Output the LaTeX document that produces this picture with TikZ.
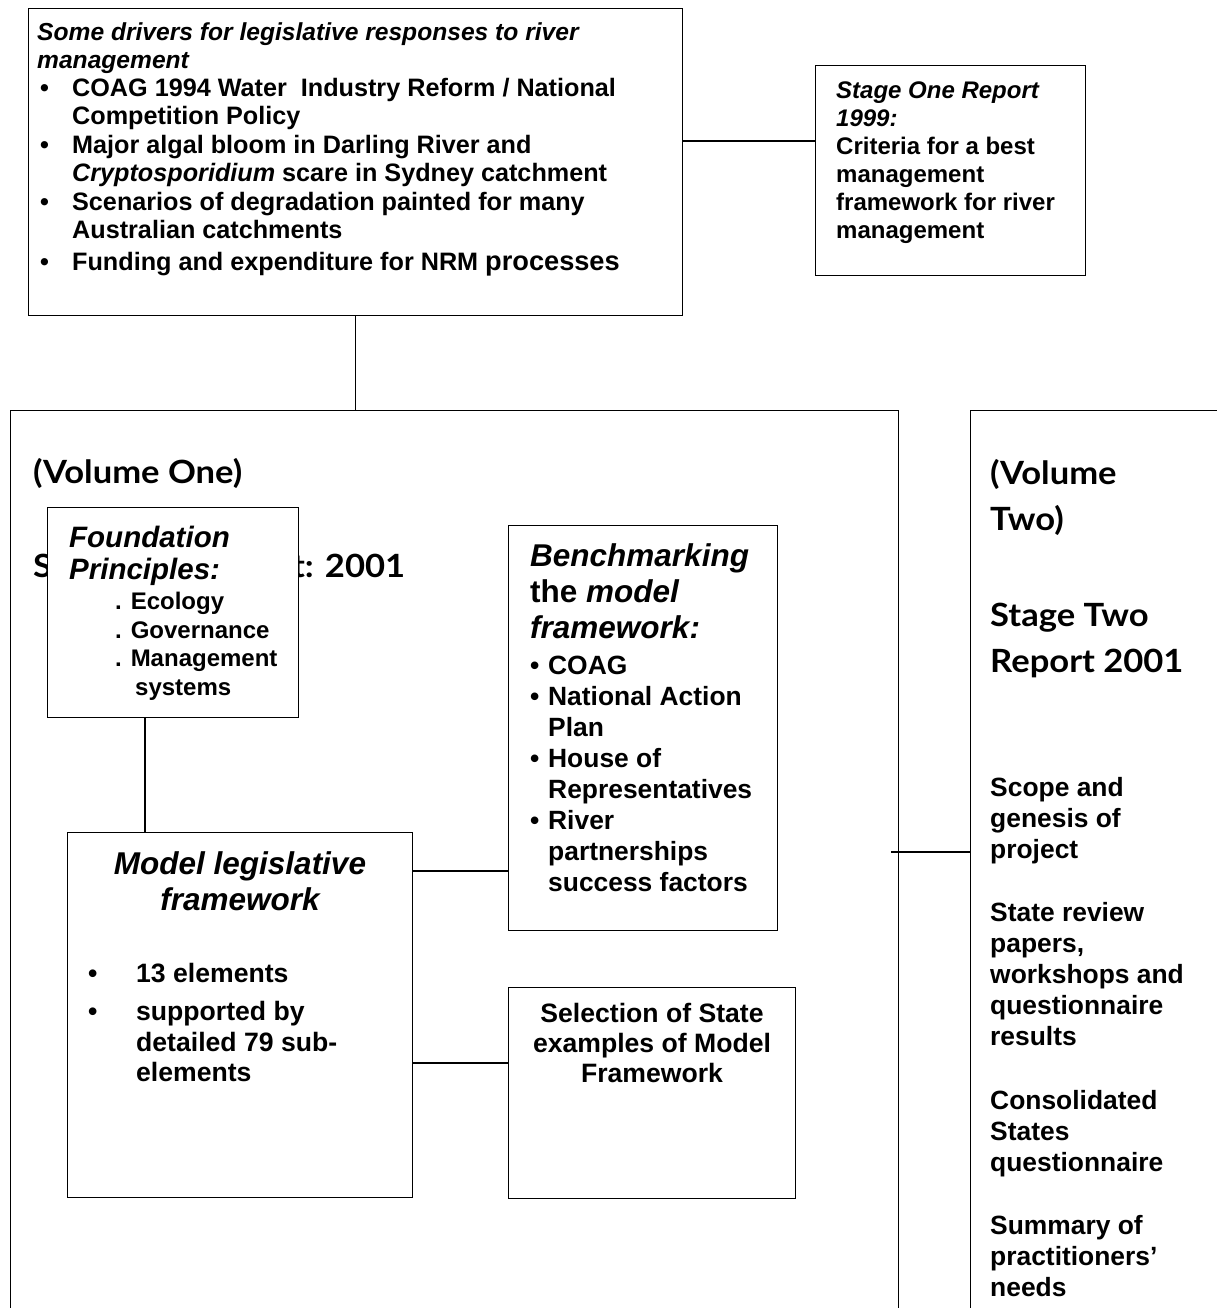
\documentclass[tikz,border=0pt]{standalone}
\usepackage{fontspec}
\setmainfont{Liberation Sans}
\newfontfamily\gill{Lato}[FakeStretch=1.08]
\newcommand\fs[2]{\fontsize{#1}{#2}\selectfont}
\newcommand\bul{\makebox[35pt][l]{\hspace*{3pt}•}}
\newcommand\ind{\hspace*{35pt}}
\newcommand\bb{\makebox[18pt][l]{•}}
\newcommand\bi{\hspace*{18pt}}
\newcommand\mb{\makebox[48pt][l]{•}}
\newcommand\mi{\hspace*{48pt}}
\begin{document}
\begin{tikzpicture}[x=1pt,y=-1pt,
  box/.style={draw, line width=1.4pt, fill=white, inner sep=0, anchor=north west},
  openbox/.style={draw, line width=1.4pt, inner sep=0, anchor=north west},
  conn/.style={line width=1.4pt},
  txt/.style={inner sep=0, align=left, anchor=north west},
  hd/.style={inner sep=0, anchor=base west, font=\gill\bfseries\fs{32}{46}}]
\useasboundingbox (0,0) rectangle (1217,1308);
\clip (0,0) rectangle (1217,1308);

% top box
\node[box, minimum width=654, minimum height=307] (top) at (28,8) {};
\node[txt, font=\bfseries\fs{25.2}{28}] (toptext) at (37,22) {%
{\fs{24.6}{28}\itshape Some drivers for legislative responses to river}\\
{\fs{24.6}{28}\itshape management}\\
\bul COAG 1994 Water\ \ Industry Reform / National\\
\ind Competition Policy\\[1pt]
\bul Major algal bloom in Darling River and\\
\ind \textit{Cryptosporidium} scare in Sydney catchment\\[1pt]
\bul Scenarios of degradation painted for many\\
\ind Australian catchments\\[4pt]
\bul Funding and expenditure for NRM {\fs{27.2}{28}processes}};

% stage one box
\node[box, minimum width=270, minimum height=210] (s1) at (815,65) {};
\node[txt, font=\bfseries\fs{24}{28}] (s1text) at (836,82) {%
\textit{Stage One Report}\\
\textit{1999:}\\
Criteria for a best\\
management\\
framework for river\\
management};

% volume one
\node[openbox, minimum width=888, minimum height=960] (vol1) at (10,410) {};
\node[hd] (v1a) at (33,483) {(Volume One)};
\node[hd] (v1b) at (33,577) {Stage Two Report: 2001};

% volume two
\node[openbox, minimum width=300, minimum height=960] (vol2) at (970,410) {};
\node[txt, font=\gill\bfseries\fs{32}{46}] (v2a) at (990,459) {%
(Volume\\
Two)\\[50pt]
Stage Two\\
Report 2001};
\node[txt, font=\bfseries\fs{26.4}{31}] (v2b) at (990,777) {%
Scope and\\
genesis of\\
project\\[32pt]
State review\\
papers,\\
workshops and\\
questionnaire\\
results\\[33pt]
Consolidated\\
States\\
questionnaire\\[32pt]
Summary of\\
practitioners’\\
needs};

% foundation
\node[box, minimum width=251, minimum height=210] (found) at (47,507) {};
\node[txt, font=\bfseries\itshape\fs{29.5}{32}] (ftitle) at (69,526) {Foundation\\ Principles:};
\node[txt, font=\bfseries\fs{24}{28.7}] (fitems) at (115,592) {%
. Ecology\\
. Governance\\
. Management\\
\hspace*{20pt}systems};

% benchmarking
\node[box, minimum width=269, minimum height=405] (bench) at (508,525) {};
\node[txt, font=\bfseries\fs{31.5}{36}] (btitle) at (530,543) {%
\textit{Benchmarking}\\
the \textit{model}\\
\textit{framework:}};
\node[txt, font=\bfseries\fs{26.4}{31}] (bitems) at (530,656) {%
\bb COAG\\
\bb National Action\\
\bi Plan\\
\bb House of\\
\bi Representatives\\
\bb River\\
\bi partnerships\\
\bi success factors};

% model
\node[box, minimum width=345, minimum height=365] (model) at (67,832) {};
\node[inner sep=0, align=center, anchor=north, font=\bfseries\itshape\fs{31.5}{36}] (mtitle) at (240,851) {Model legislative\\ framework};
\node[txt, font=\bfseries\fs{26.6}{30.5}] (mitems) at (88,963) {%
\mb 13 elements\\[8pt]
\mb supported by\\
\mi detailed 79 sub-\\
\mi elements};

% selection
\node[box, minimum width=287, minimum height=211] (sel) at (508,987) {};
\node[inner sep=0, align=center, anchor=north, font=\bfseries\fs{26.6}{30}] (stext) at (652,1003) {%
Selection of State\\
examples of Model\\
Framework};

% connectors
\coordinate (y1) at (0,141);
\draw[conn] (top.east |- y1) -- (s1.west |- y1);
\draw[conn] (top.south) -- (vol1.north -| top.south);
\coordinate (x2) at (145,0);
\draw[conn] (found.south -| x2) -- (model.north -| x2);
\coordinate (y3) at (0,871);
\draw[conn] (model.east |- y3) -- (bench.west |- y3);
\coordinate (y4) at (0,1063);
\draw[conn] (model.east |- y4) -- (sel.west |- y4);
\coordinate (y5) at (891,852);
\draw[conn] (y5) -- (vol2.west |- y5);
\end{tikzpicture}
\end{document}
